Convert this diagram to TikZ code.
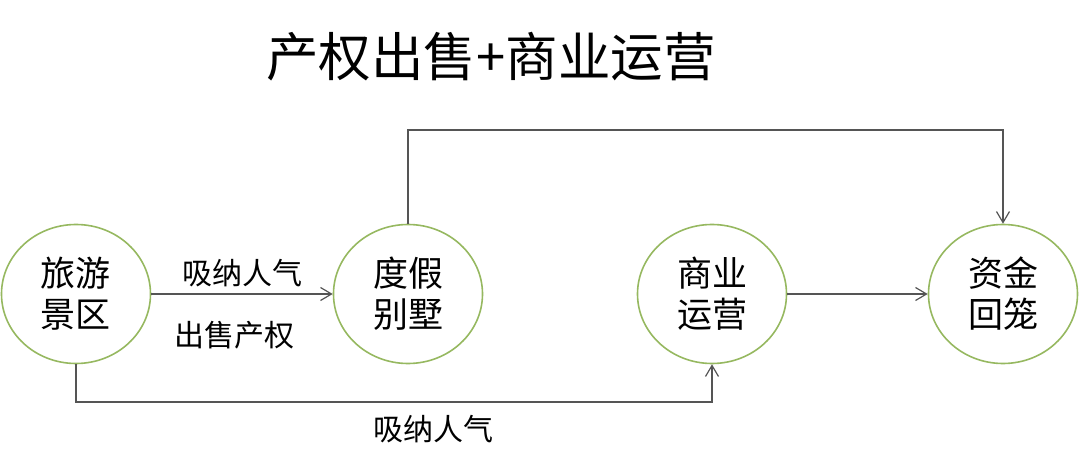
\documentclass[tikz,border=0pt]{standalone}
\usepackage{fontspec}
\setmainfont{Noto Sans CJK SC}
\usepackage{xcolor}
\usepackage{tikz}
\usetikzlibrary{shapes.geometric,arrows.meta}

\definecolor{ringgreen}{RGB}{150,184,96}
\definecolor{linegray}{RGB}{85,85,85}

\begin{document}
\begin{tikzpicture}[x=1pt, y=-1pt,
        place/.style={ellipse, draw=ringgreen, line width=1.6pt,
        minimum width=149pt, minimum height=139pt, inner sep=0pt,
        align=center, font=\fontsize{35}{41}\selectfont},
        lbl/.style={font=\fontsize{30}{36}\selectfont, inner sep=0pt},
        link/.style={draw=linegray, line width=1.2pt},
        >={Straight Barb[length=11pt,width=13pt]}]

        \useasboundingbox (0,0) rectangle (1080,462);

        \node[font=\fontsize{52.5}{60}\selectfont] (T) at (491,57) {产权出售+商业运营};

        \node[place] (A) at (76,294) {旅游\\景区};
        \node[place] (B) at (408,294) {度假\\别墅};
        \node[place] (C) at (712,294) {商业\\运营};
        \node[place] (D) at (1003,294) {资金\\回笼};

        \coordinate (top) at (1003,130);
        \coordinate (bot) at (712,402);

        \draw[link,->] (A) -- (B);
        \draw[link,->] (B.north) |- (top) -- (D.north);
        \draw[link,->] (C) -- (D);
        \draw[link,->] (A.south) |- (bot) -- (C.south);

        \node[lbl] (up) at (242,273) {吸纳人气};
        \node[lbl] (down) at (234,335) {出售产权};
        \node[lbl] (low) at (433,429) {吸纳人气};
    \end{tikzpicture}
\end{document}
